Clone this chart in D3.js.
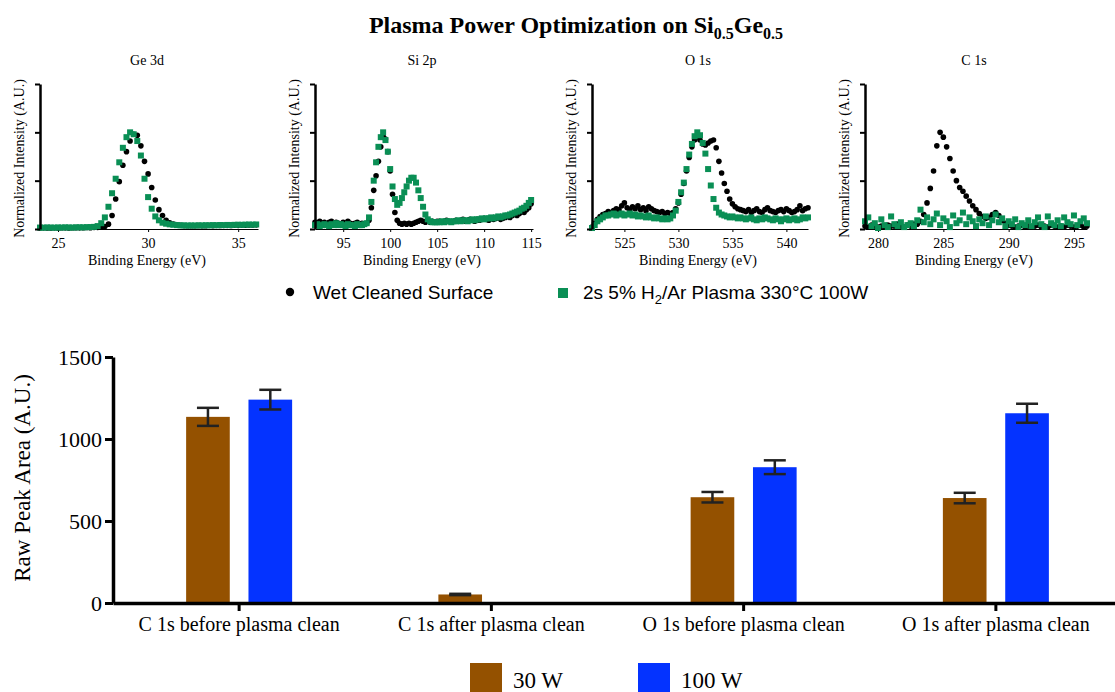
<!DOCTYPE html>
<html>
<head>
<meta charset="utf-8">
<script src="https://cdn.jsdelivr.net/npm/d3@7"></script>
<style>
	body { margin: 0; background: #fff; }
	svg { display: block; }
</style>
</head>
<body>
<div id="chart"></div>
<script>
// ---------- XPS spectra (normalized intensity) ----------
// energy grids: start, step, count per panel
const geStart = 24, geStep = 0.2, geCount = 61
const siStart = 92, siStep = 0.25, siCount = 93
const oStart = 522, oStep = 0.25, oCount = 81
const cStart = 279, cStep = 0.25, cCount = 69

const geWet = [0.010, 0.012, 0.010, 0.011, 0.012, 0.010, 0.013, 0.012, 0.011, 0.013, 0.014, 0.012, 0.013, 0.015, 0.014, 0.016,
	0.017, 0.02, 0.025, 0.05, 0.14, 0.31, 0.49, 0.66, 0.80, 0.91, 0.98, 0.97, 0.86, 0.70, 0.57, 0.43, 0.30, 0.20, 0.14, 0.09, 0.065, 0.05, 0.042, 0.038, 0.035,
	0.034, 0.033, 0.034, 0.035, 0.033, 0.034, 0.036, 0.035, 0.036, 0.037, 0.036, 0.038, 0.037, 0.039, 0.038, 0.040, 0.039, 0.041, 0.042, 0.043]
const gePlasma = [0.015, 0.014, 0.016, 0.015, 0.014, 0.016, 0.015, 0.017, 0.016, 0.015, 0.017, 0.018, 0.017, 0.019, 0.020, 0.022,
	0.03, 0.06, 0.12, 0.23, 0.37, 0.52, 0.69, 0.84, 0.95, 1.00, 0.98, 0.91, 0.76, 0.52, 0.33, 0.21, 0.13, 0.09, 0.065, 0.055, 0.048, 0.044, 0.040, 0.038, 0.037,
	0.036, 0.037, 0.036, 0.038, 0.037, 0.039, 0.038, 0.040, 0.039, 0.041, 0.040, 0.042, 0.041, 0.043, 0.044, 0.043, 0.045, 0.046, 0.045, 0.047]

const siWet = [0.07, 0.06, 0.08, 0.06, 0.07, 0.05, 0.07, 0.08, 0.06, 0.07, 0.06, 0.05, 0.07, 0.06, 0.08, 0.06, 0.05, 0.06, 0.07, 0.05, 0.06, 0.05,
	0.06, 0.09, 0.22, 0.40, 0.55, 0.70, 0.85, 0.96, 0.93, 0.80, 0.60, 0.36, 0.17, 0.09, 0.06, 0.05, 0.06, 0.05, 0.06, 0.05, 0.06, 0.07, 0.08, 0.09, 0.08, 0.07, 0.08, 0.07, 0.08, 0.07, 0.08,
	0.08, 0.07, 0.08, 0.09, 0.08, 0.07, 0.08, 0.09, 0.08, 0.09, 0.10, 0.08, 0.09, 0.10, 0.09, 0.08, 0.10, 0.09, 0.10, 0.11,
	0.10, 0.09, 0.11, 0.10, 0.11, 0.12, 0.10, 0.11, 0.12, 0.13, 0.12, 0.14, 0.15, 0.14, 0.16, 0.18, 0.17, 0.20, 0.22, 0.26]
const siPlasma = [0.04, 0.05, 0.03, 0.04, 0.05, 0.04, 0.03, 0.05, 0.04, 0.06, 0.04, 0.05, 0.04, 0.03, 0.05, 0.04, 0.04, 0.03, 0.05, 0.04, 0.04, 0.05,
	0.06, 0.12, 0.28, 0.50, 0.69, 0.85, 0.95, 1.00, 0.92, 0.80, 0.62, 0.44, 0.31, 0.25, 0.27, 0.32, 0.38, 0.44, 0.50, 0.53, 0.53, 0.48, 0.40, 0.32, 0.23, 0.15, 0.10, 0.08, 0.07, 0.07, 0.07,
	0.07, 0.08, 0.07, 0.08, 0.08, 0.07, 0.08, 0.08, 0.09, 0.08, 0.09, 0.09, 0.08, 0.09, 0.10, 0.09, 0.10, 0.10, 0.11, 0.10,
	0.11, 0.11, 0.12, 0.11, 0.12, 0.13, 0.12, 0.13, 0.14, 0.14, 0.15, 0.16, 0.17, 0.18, 0.19, 0.21, 0.22, 0.24, 0.27, 0.30]

const oWet = [0.02, 0.06, 0.10, 0.13, 0.15, 0.16, 0.18, 0.17, 0.19, 0.21, 0.20, 0.24, 0.27, 0.22, 0.20, 0.23, 0.21, 0.24, 0.20, 0.22,
	0.19, 0.23, 0.21, 0.19, 0.18, 0.17, 0.18, 0.16, 0.17, 0.16, 0.17, 0.21, 0.27, 0.36, 0.47, 0.60, 0.74, 0.85, 0.92, 0.95,
	0.92, 0.88, 0.87, 0.89, 0.91, 0.92, 0.84, 0.70, 0.58, 0.47, 0.39, 0.31, 0.26, 0.23, 0.21, 0.20, 0.19,
	0.18, 0.20, 0.17, 0.19, 0.21, 0.18, 0.17, 0.20, 0.22, 0.19, 0.18, 0.17, 0.19, 0.20, 0.18, 0.21, 0.19, 0.17, 0.18, 0.20, 0.24, 0.19, 0.21, 0.22]
const oPlasma = [0.01, 0.04, 0.08, 0.10, 0.12, 0.14, 0.14, 0.15, 0.16, 0.14, 0.15, 0.16, 0.14, 0.15, 0.16, 0.14, 0.15, 0.13, 0.14, 0.13,
	0.12, 0.14, 0.12, 0.11, 0.12, 0.11, 0.10, 0.11, 0.10, 0.11, 0.14, 0.19, 0.28, 0.38, 0.48, 0.62, 0.77, 0.88, 0.96, 1.00,
	0.97, 0.89, 0.78, 0.62, 0.45, 0.31, 0.22, 0.17, 0.15, 0.14, 0.13, 0.12, 0.13, 0.12, 0.11, 0.12, 0.11,
	0.10, 0.11, 0.12, 0.10, 0.09, 0.11, 0.10, 0.12, 0.11, 0.10, 0.09, 0.11, 0.10, 0.08, 0.10, 0.11, 0.09, 0.10, 0.11, 0.09, 0.10, 0.12, 0.11, 0.12]

const cWet = [0.03, 0.02, 0.04, 0.03, 0.02, 0.03, 0.02, 0.04, 0.03, 0.03, 0.05, 0.03, 0.02, 0.04, 0.03, 0.05,
	0.05, 0.08, 0.15, 0.27, 0.42, 0.60, 0.86, 1.00, 0.95, 0.85, 0.73, 0.60, 0.50, 0.43, 0.39, 0.34, 0.29, 0.24, 0.20, 0.16, 0.13, 0.11, 0.12, 0.15, 0.17, 0.14, 0.09, 0.06, 0.04,
	0.03, 0.02, 0.03, 0.04, 0.02, 0.03, 0.02, 0.03, 0.04, 0.02, 0.03, 0.02, 0.04, 0.03, 0.02, 0.03, 0.02, 0.04, 0.03, 0.02, 0.03, 0.04, 0.02, 0.03]
const cPlasma = [0.08, 0.12, 0.03, 0.06, 0.01, 0.10, 0.04, 0.02, 0.13, 0.05, 0.03, 0.07, 0.02, 0.04, 0.06, 0.03,
	0.09, 0.20, 0.07, 0.12, 0.05, 0.10, 0.16, 0.04, 0.11, 0.08, 0.02, 0.14, 0.06, 0.09, 0.17, 0.05,
	0.12, 0.08, 0.03, 0.10, 0.06, 0.13, 0.04, 0.09, 0.15, 0.07, 0.11, 0.03, 0.08, 0.05, 0.10, 0.02,
	0.06, 0.04, 0.09, 0.03, 0.07, 0.12, 0.05, 0.02, 0.13, 0.06, 0.04, 0.09, 0.03, 0.12, 0.07, 0.05, 0.14, 0.04, 0.08, 0.11, 0.06]

const panelTitles = ["Ge 3d", "Si 2p", "O 1s", "C 1s"]
const panelDomains = [[24, 36.1], [92, 115.2], [522, 542], [279, 296]]
const panelTicks = [[25, 30, 35], [95, 100, 105, 110, 115], [525, 530, 535, 540], [280, 285, 290, 295]]
const seriesNames = ["Wet Cleaned Surface", "2s 5% H2/Ar Plasma 330°C 100W"]

// ---------- peak areas ----------
const categories = ["C 1s before plasma clean", "C 1s after plasma clean", "O 1s before plasma clean", "O 1s after plasma clean"]
const powers = ["30 W", "100 W"]
const area30 = [1135, 52, 645, 640]
const err30 = [55, 4, 32, 32]
const area100 = [1240, 0, 828, 1157]
const err100 = [60, 0, 42, 58]
const areaTicks = [0, 500, 1000, 1500]

const serif = "'Liberation Serif', 'Times New Roman', serif"
const sans = "'Liberation Sans', Arial, sans-serif"
const green = "#0a8f55"
const colors = { "30 W": "#945100", "100 W": "#0433ff" }

const svg = d3.select("#chart")
	.append("svg")
	.attr("width", 1115)
	.attr("height", 692)

// title
const title = svg.append("text")
	.attr("x", 576)
	.attr("y", 33)
	.attr("text-anchor", "middle")
	.style("font-family", serif)
	.style("font-weight", "bold")
	.style("font-size", "24px")
title.append("tspan").text("Plasma Power Optimization on Si")
title.append("tspan").attr("dy", 6).style("font-size", "16px").text("0.5")
title.append("tspan").attr("dy", -6).text("Ge")
title.append("tspan").attr("dy", 6).style("font-size", "16px").text("0.5")

// ---------- spectra panels ----------
function grid(start, step, n) {
	return d3.range(n).map(i => +(start + i * step).toFixed(3))
}
const spectra = [
	{ e: grid(geStart, geStep, geCount), wet: geWet, plasma: gePlasma },
	{ e: grid(siStart, siStep, siCount), wet: siWet, plasma: siPlasma },
	{ e: grid(oStart, oStep, oCount), wet: oWet, plasma: oPlasma },
	{ e: grid(cStart, cStep, cCount), wet: cWet, plasma: cPlasma }
]
const panelLeft = [40, 315, 592, 865]
const panelWidth = [218, 218, 216, 222]
const yTop = 84, yBase = 229

spectra.forEach((s, k) => {
	const x = d3.scaleLinear().domain(panelDomains[k]).range([panelLeft[k], panelLeft[k] + panelWidth[k]])
	const y = d3.scaleLinear().domain([0, 1.5]).range([yBase, yTop])
	const g = svg.append("g")

	// x axis
	const xa = g.append("g")
		.attr("transform", `translate(0,${yBase})`)
		.call(d3.axisBottom(x).tickValues(panelTicks[k]).tickSize(3).tickSizeOuter(0).tickPadding(6))
	xa.select(".domain").attr("stroke", "#000").attr("stroke-width", 1)
	xa.selectAll(".tick line").attr("stroke", "#000").attr("stroke-width", 1)
	xa.selectAll("text").style("font-family", serif).style("font-size", "14px").attr("fill", "#000")

	// points: wet (black circles) then plasma (green squares)
	g.selectAll("circle.wet")
		.data(s.e.map((e, i) => [e, s.wet[i]]))
		.join("circle")
		.attr("class", "wet")
		.attr("cx", d => x(d[0]))
		.attr("cy", d => y(d[1]))
		.attr("r", 2.8)
		.attr("fill", "#000")
	g.selectAll("rect.plasma")
		.data(s.e.map((e, i) => [e, s.plasma[i]]))
		.join("rect")
		.attr("class", "plasma")
		.attr("x", d => x(d[0]) - 3)
		.attr("y", d => y(d[1]) - 3)
		.attr("width", 6)
		.attr("height", 6)
		.attr("fill", green)

	// y axis
	const ya = g.append("g")
		.attr("transform", `translate(${panelLeft[k]},0)`)
		.call(d3.axisLeft(y).tickValues([0, 0.5, 1, 1.5]).tickSize(5).tickSizeOuter(0).tickFormat(""))
	ya.select(".domain").attr("stroke", "#000").attr("stroke-width", 2.5)
	ya.selectAll(".tick line").attr("stroke", "#000").attr("stroke-width", 2)

	const cx = panelLeft[k] + panelWidth[k] / 2
	g.append("text")
		.attr("x", cx - 2)
		.attr("y", 65)
		.attr("text-anchor", "middle")
		.style("font-family", serif)
		.style("font-size", "14px")
		.text(panelTitles[k])
	g.append("text")
		.attr("x", cx - 2)
		.attr("y", 265)
		.attr("text-anchor", "middle")
		.style("font-family", serif)
		.style("font-size", "14px")
		.text("Binding Energy (eV)")
	g.append("text")
		.attr("transform", `translate(${panelLeft[k] - 16},${(yTop + yBase) / 2 + 2}) rotate(-90)`)
		.attr("text-anchor", "middle")
		.style("font-family", serif)
		.style("font-size", "14px")
		.text("Normalized Intensity (A.U.)")
})

// spectra legend
const lg = svg.append("g").style("font-family", sans).style("font-size", "19px")
lg.append("circle").attr("cx", 290).attr("cy", 292).attr("r", 4.2).attr("fill", "#000")
lg.append("text").attr("x", 313).attr("y", 299).text(seriesNames[0])
lg.append("rect").attr("x", 558).attr("y", 288).attr("width", 10).attr("height", 10).attr("fill", green)
const lt = lg.append("text").attr("x", 583).attr("y", 299)
lt.append("tspan").text("2s 5% H")
lt.append("tspan").attr("dy", 5).style("font-size", "13px").text("2")
lt.append("tspan").attr("dy", -5).text("/Ar Plasma 330°C 100W")

// ---------- bar chart ----------
const x0 = d3.scaleBand().domain(categories).range([113, 1122])
const x1 = d3.scaleBand().domain(powers).range([0, 106]).paddingInner(0.3)
const yb = d3.scaleLinear().domain([0, 1500]).range([603, 357])

const rows = categories.map((c, i) => [
	{ cat: c, power: "30 W", v: area30[i], e: err30[i] },
	{ cat: c, power: "100 W", v: area100[i], e: err100[i] }
]).flat().filter(d => d.v > 0)

const bx = d => x0(d.cat) + x0.bandwidth() / 2 - 53 + x1(d.power)

svg.append("g")
	.selectAll("rect")
	.data(rows)
	.join("rect")
	.attr("x", d => bx(d))
	.attr("y", d => yb(d.v))
	.attr("width", x1.bandwidth())
	.attr("height", d => yb(0) - yb(d.v))
	.attr("fill", d => colors[d.power])

// error bars
const eb = svg.append("g")
	.attr("stroke", "#222")
	.attr("stroke-width", 2.5)
	.selectAll("g")
	.data(rows)
	.join("g")
	.attr("transform", d => `translate(${bx(d) + x1.bandwidth() / 2},0)`)
eb.append("line").attr("y1", d => yb(d.v - d.e)).attr("y2", d => yb(d.v + d.e))
eb.append("line").attr("x1", -11).attr("x2", 11).attr("y1", d => yb(d.v + d.e)).attr("y2", d => yb(d.v + d.e))
eb.append("line").attr("x1", -11).attr("x2", 11).attr("y1", d => yb(d.v - d.e)).attr("y2", d => yb(d.v - d.e))

// axes
const by = svg.append("g")
	.attr("transform", "translate(113,0)")
	.call(d3.axisLeft(yb).tickValues(areaTicks).tickFormat(d3.format("d")).tickSize(8).tickSizeOuter(0).tickPadding(3))
by.select(".domain").attr("stroke", "#000").attr("stroke-width", 3.5)
by.selectAll(".tick line").attr("stroke", "#000").attr("stroke-width", 3)
by.selectAll("text").style("font-family", serif).style("font-size", "22px").attr("fill", "#000")

const bxa = svg.append("g")
	.attr("transform", "translate(0,603)")
	.call(d3.axisBottom(x0).tickSize(8).tickSizeOuter(0).tickPadding(6))
bxa.select(".domain").attr("stroke", "#000").attr("stroke-width", 3.5)
bxa.selectAll(".tick line").attr("stroke", "#000").attr("stroke-width", 3)
bxa.selectAll("text").style("font-family", serif).style("font-size", "20px").attr("fill", "#000")

svg.append("text")
	.attr("transform", "translate(30,478) rotate(-90)")
	.attr("text-anchor", "middle")
	.style("font-family", serif)
	.style("font-size", "23px")
	.text("Raw Peak Area (A.U.)")

// power legend
const pl = svg.append("g").style("font-family", serif).style("font-size", "23px")
const legX = [470, 638]
powers.forEach((p, i) => {
	pl.append("rect").attr("x", legX[i]).attr("y", 663).attr("width", 32).attr("height", 32).attr("fill", colors[p])
	pl.append("text").attr("x", legX[i] + 43).attr("y", 688).text(p)
})
</script>
</body>
</html>
